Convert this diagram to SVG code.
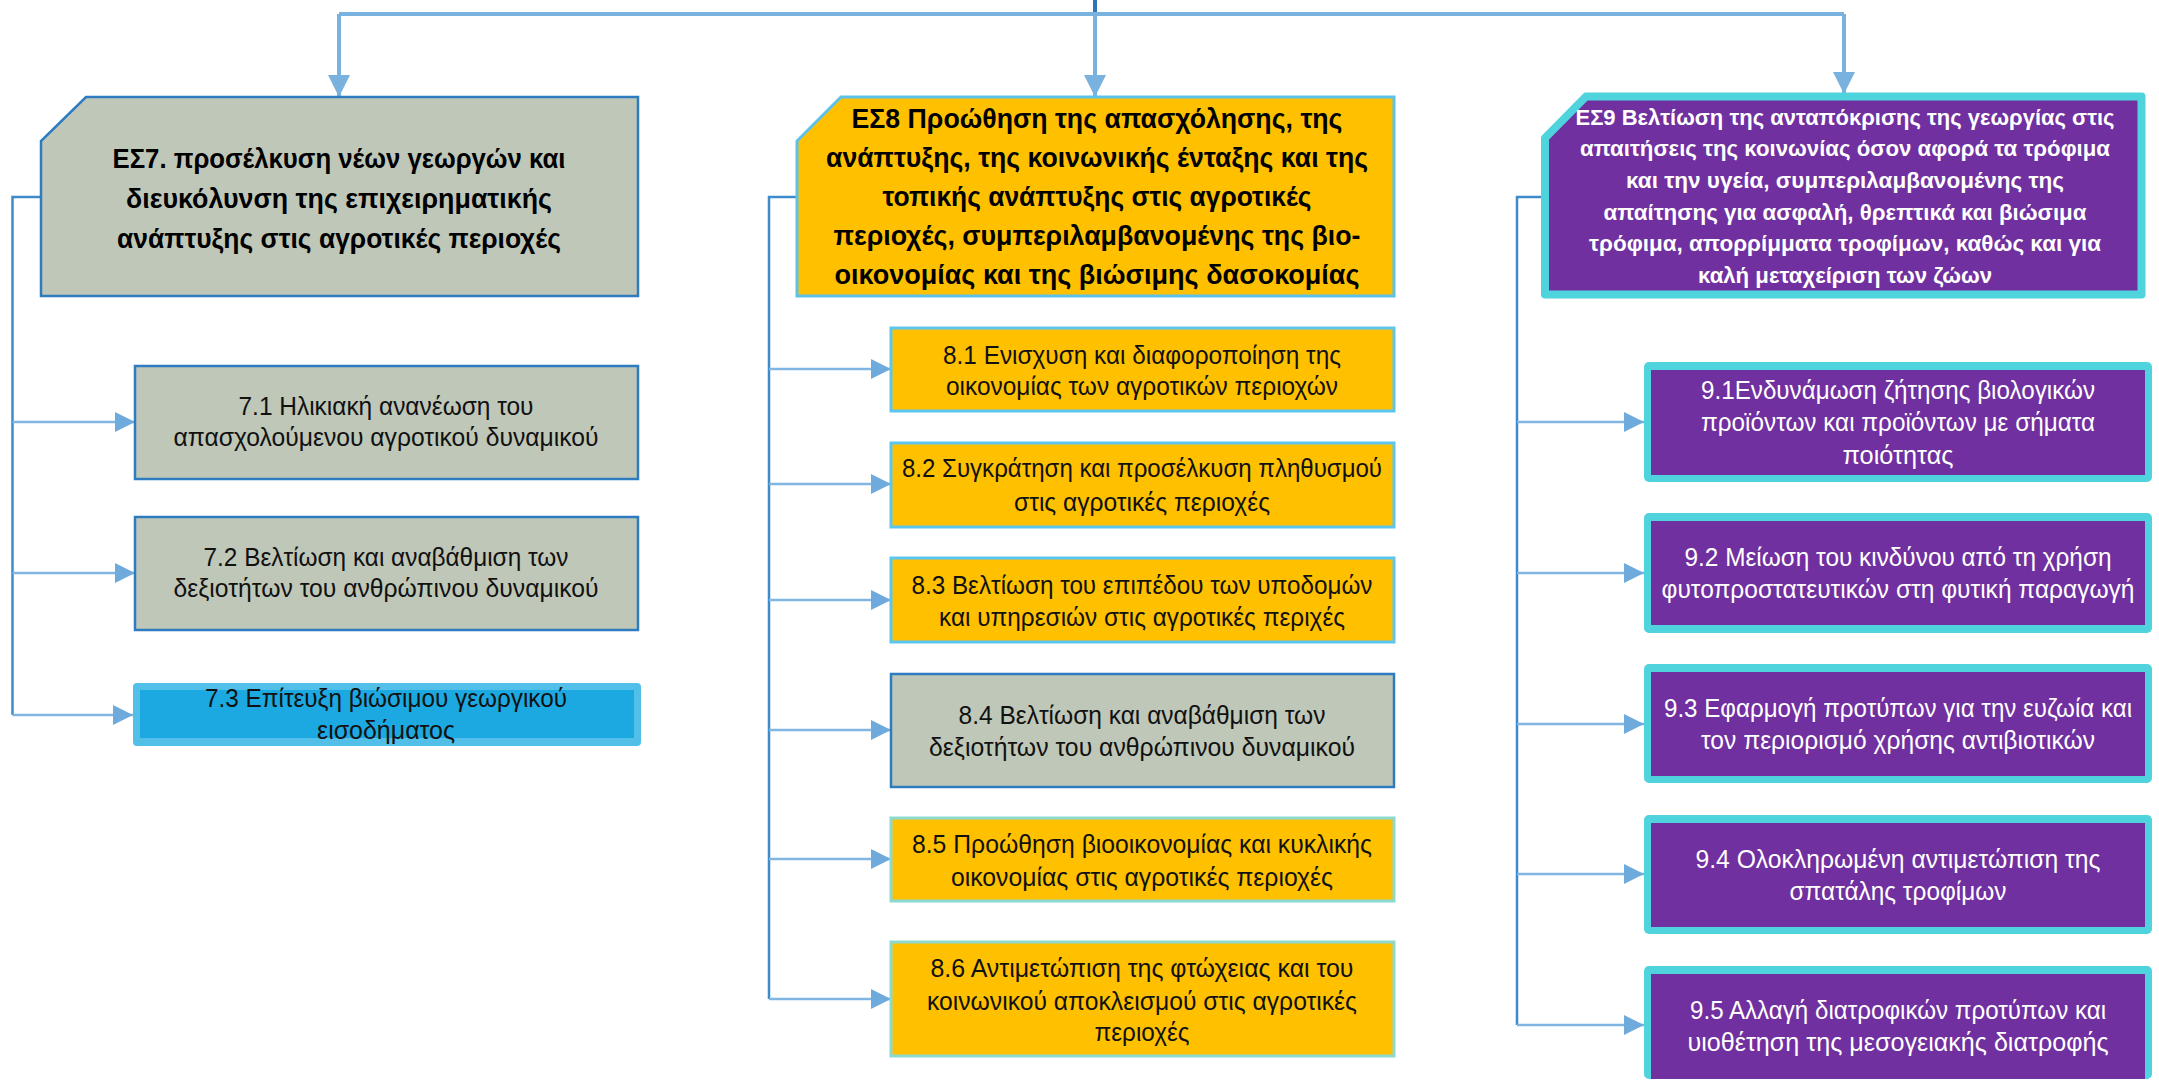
<svg xmlns="http://www.w3.org/2000/svg" width="2159" height="1081" viewBox="0 0 2159 1081">
<defs>
<marker id="ah" markerUnits="userSpaceOnUse" markerWidth="20" markerHeight="20" viewBox="0 0 18 18" refX="18" refY="9" orient="auto">
<path d="M0,0 L18,9 L0,18 Z" fill="#6FAADC"/>
</marker>
<marker id="ahd" markerUnits="userSpaceOnUse" markerWidth="22" markerHeight="22" viewBox="0 0 20 20" refX="20" refY="10" orient="auto">
<path d="M0,0 L20,10 L0,20 Z" fill="#7AB2DF"/>
</marker>
</defs>
<style>
text{font-family:"Liberation Sans",Arial,sans-serif;text-anchor:middle}
.h{font-weight:bold;font-size:27px;fill:#000}
.h9{font-weight:bold;font-size:22.5px;fill:#fff}
.c{font-size:25px;fill:#111}
.w{font-size:25px;fill:#fff}
.gray{fill:#BFC7B8;stroke:#2E7BC0;stroke-width:2.5}
.org{fill:#FFC000;stroke:#5CC6EE;stroke-width:3}
.orgt{fill:#FFC000;stroke:#8CD9CF;stroke-width:3}
.pout{fill:#4FD3DC}
.pin{fill:#7030A0}
.bus{fill:none;stroke:#3E8BCB;stroke-width:2.5}
.br{fill:none;stroke:#80B6E1;stroke-width:2.5}
.top{fill:none;stroke:#7AB2DF;stroke-width:4}
</style>

<g id="connectors">
<line x1="1095" y1="0" x2="1095" y2="16" stroke="#2E75B6" stroke-width="4"/>
<polyline class="top" points="339,14 1844,14"/>
<line class="top" x1="339" y1="14" x2="339" y2="97" marker-end="url(#ahd)"/>
<line class="top" x1="1095" y1="14" x2="1095" y2="97" marker-end="url(#ahd)"/>
<line class="top" x1="1844" y1="14" x2="1844" y2="94" marker-end="url(#ahd)"/>

<polyline class="bus" points="41,197 12.5,197 12.5,715"/>
<line class="br" x1="12.5" y1="422" x2="135" y2="422" marker-end="url(#ah)"/>
<line class="br" x1="12.5" y1="573" x2="135" y2="573" marker-end="url(#ah)"/>
<line class="br" x1="12.5" y1="715" x2="133" y2="715" marker-end="url(#ah)"/>

<polyline class="bus" points="797,197 769,197 769,999"/>
<line class="br" x1="769" y1="369" x2="891" y2="369" marker-end="url(#ah)"/>
<line class="br" x1="769" y1="484" x2="891" y2="484" marker-end="url(#ah)"/>
<line class="br" x1="769" y1="600" x2="891" y2="600" marker-end="url(#ah)"/>
<line class="br" x1="769" y1="730" x2="891" y2="730" marker-end="url(#ah)"/>
<line class="br" x1="769" y1="859" x2="891" y2="859" marker-end="url(#ah)"/>
<line class="br" x1="769" y1="999" x2="891" y2="999" marker-end="url(#ah)"/>

<polyline class="bus" points="1541,197 1517,197 1517,1025"/>
<line class="br" x1="1517" y1="422" x2="1644" y2="422" marker-end="url(#ah)"/>
<line class="br" x1="1517" y1="573" x2="1644" y2="573" marker-end="url(#ah)"/>
<line class="br" x1="1517" y1="724" x2="1644" y2="724" marker-end="url(#ah)"/>
<line class="br" x1="1517" y1="874" x2="1644" y2="874" marker-end="url(#ah)"/>
<line class="br" x1="1517" y1="1025" x2="1644" y2="1025" marker-end="url(#ah)"/>
</g>

<g id="es7">
<path class="gray" d="M86,97 L638,97 L638,296 L41,296 L41,141 Z"/>
<text class="h" x="339" y="168" textLength="453" lengthAdjust="spacingAndGlyphs">ΕΣ7. προσέλκυση νέων γεωργών και</text>
<text class="h" x="339" y="208" textLength="426" lengthAdjust="spacingAndGlyphs">διευκόλυνση της επιχειρηματικής</text>
<text class="h" x="339" y="248" textLength="444" lengthAdjust="spacingAndGlyphs">ανάπτυξης στις αγροτικές περιοχές</text>
</g>

<g id="es8">
<path class="org" style="stroke:#5BC2EC" d="M841,97 L1394,97 L1394,296 L797,296 L797,141 Z"/>
<text class="h" x="1097" y="128" textLength="491" lengthAdjust="spacingAndGlyphs">ΕΣ8 Προώθηση της απασχόλησης, της</text>
<text class="h" x="1097" y="167" textLength="542" lengthAdjust="spacingAndGlyphs">ανάπτυξης, της κοινωνικής ένταξης και της</text>
<text class="h" x="1097" y="206" textLength="429" lengthAdjust="spacingAndGlyphs">τοπικής ανάπτυξης στις αγροτικές</text>
<text class="h" x="1097" y="245" textLength="527" lengthAdjust="spacingAndGlyphs">περιοχές, συμπεριλαμβανομένης της βιο-</text>
<text class="h" x="1097" y="284" textLength="525" lengthAdjust="spacingAndGlyphs">οικονομίας και της βιώσιμης δασοκομίας</text>
</g>

<g id="es9">
<path d="M1586,96.5 L2141.5,96.5 L2141.5,294.5 L1545,294.5 L1545,138 Z" fill="#7030A0" stroke="#4FD3DC" stroke-width="8" stroke-linejoin="round"/>
<text class="h9" x="1845" y="125" textLength="539" lengthAdjust="spacingAndGlyphs">ΕΣ9 Βελτίωση της ανταπόκρισης της γεωργίας στις</text>
<text class="h9" x="1845" y="156" textLength="530" lengthAdjust="spacingAndGlyphs">απαιτήσεις της κοινωνίας όσον αφορά τα τρόφιμα</text>
<text class="h9" x="1845" y="188" textLength="438" lengthAdjust="spacingAndGlyphs">και την υγεία, συμπεριλαμβανομένης της</text>
<text class="h9" x="1845" y="220" textLength="483" lengthAdjust="spacingAndGlyphs">απαίτησης για ασφαλή, θρεπτικά και βιώσιμα</text>
<text class="h9" x="1845" y="251" textLength="512" lengthAdjust="spacingAndGlyphs">τρόφιμα, απορρίμματα τροφίμων, καθώς και για</text>
<text class="h9" x="1845" y="283" textLength="294" lengthAdjust="spacingAndGlyphs">καλή μεταχείριση των ζώων</text>
</g>

<g id="n71">
<rect class="gray" x="135" y="366" width="503" height="113"/>
<text class="c" x="386" y="415" textLength="295" lengthAdjust="spacingAndGlyphs">7.1 Ηλικιακή ανανέωση του</text>
<text class="c" x="386" y="446" textLength="425" lengthAdjust="spacingAndGlyphs">απασχολούμενου αγροτικού δυναμικού</text>
</g>
<g id="n72">
<rect class="gray" x="135" y="517" width="503" height="113"/>
<text class="c" x="386" y="566" textLength="365" lengthAdjust="spacingAndGlyphs">7.2 Βελτίωση και αναβάθμιση των</text>
<text class="c" x="386" y="597" textLength="425" lengthAdjust="spacingAndGlyphs">δεξιοτήτων του ανθρώπινου δυναμικού</text>
</g>
<g id="n73">
<rect x="133" y="683" width="508" height="63" rx="4" fill="#52BFE9"/>
<rect x="140" y="690" width="494" height="48" fill="#1CA9E1"/>
<text class="c" x="386" y="707" textLength="362" lengthAdjust="spacingAndGlyphs">7.3 Επίτευξη βιώσιμου γεωργικού</text>
<text class="c" x="386" y="739" textLength="138" lengthAdjust="spacingAndGlyphs">εισοδήματος</text>
</g>

<g id="n81">
<rect class="org" x="891" y="328" width="503" height="83"/>
<text class="c" x="1142" y="364" textLength="398" lengthAdjust="spacingAndGlyphs">8.1 Ενισχυση και διαφοροποίηση της</text>
<text class="c" x="1142" y="395" textLength="392" lengthAdjust="spacingAndGlyphs">οικονομίας των αγροτικών περιοχών</text>
</g>
<g id="n82">
<rect class="org" x="891" y="443" width="503" height="84"/>
<text class="c" x="1142" y="477" textLength="480" lengthAdjust="spacingAndGlyphs">8.2 Συγκράτηση και προσέλκυση πληθυσμού</text>
<text class="c" x="1142" y="511" textLength="256" lengthAdjust="spacingAndGlyphs">στις αγροτικές περιοχές</text>
</g>
<g id="n83">
<rect class="org" x="891" y="558" width="503" height="84"/>
<text class="c" x="1142" y="594" textLength="461" lengthAdjust="spacingAndGlyphs">8.3 Βελτίωση του επιπέδου των υποδομών</text>
<text class="c" x="1142" y="626" textLength="406" lengthAdjust="spacingAndGlyphs">και υπηρεσιών στις αγροτικές περιχές</text>
</g>
<g id="n84">
<rect class="gray" x="891" y="674" width="503" height="113"/>
<text class="c" x="1142" y="724" textLength="367" lengthAdjust="spacingAndGlyphs">8.4 Βελτίωση και αναβάθμιση των</text>
<text class="c" x="1142" y="756" textLength="426" lengthAdjust="spacingAndGlyphs">δεξιοτήτων του ανθρώπινου δυναμικού</text>
</g>
<g id="n85">
<rect class="orgt" x="891" y="818" width="503" height="83"/>
<text class="c" x="1142" y="853" textLength="460" lengthAdjust="spacingAndGlyphs">8.5 Προώθηση βιοοικονομίας και κυκλικής</text>
<text class="c" x="1142" y="886" textLength="382" lengthAdjust="spacingAndGlyphs">οικονομίας στις αγροτικές περιοχές</text>
</g>
<g id="n86">
<rect class="orgt" x="891" y="942" width="503" height="114"/>
<text class="c" x="1142" y="977" textLength="423" lengthAdjust="spacingAndGlyphs">8.6 Αντιμετώπιση της φτώχειας και του</text>
<text class="c" x="1142" y="1010" textLength="430" lengthAdjust="spacingAndGlyphs">κοινωνικού αποκλεισμού στις αγροτικές</text>
<text class="c" x="1142" y="1041" textLength="95" lengthAdjust="spacingAndGlyphs">περιοχές</text>
</g>

<g id="n91">
<rect class="pout" x="1644" y="362" width="508" height="120" rx="5"/>
<rect class="pin" x="1651" y="370" width="494" height="105"/>
<text class="w" x="1898" y="399" textLength="394" lengthAdjust="spacingAndGlyphs">9.1Ενδυνάμωση ζήτησης βιολογικών</text>
<text class="w" x="1898" y="431" textLength="394" lengthAdjust="spacingAndGlyphs">προϊόντων και προϊόντων με σήματα</text>
<text class="w" x="1898" y="464" textLength="111" lengthAdjust="spacingAndGlyphs">ποιότητας</text>
</g>
<g id="n92">
<rect class="pout" x="1644" y="513" width="508" height="120" rx="5"/>
<rect class="pin" x="1651" y="521" width="494" height="104"/>
<text class="w" x="1898" y="566" textLength="427" lengthAdjust="spacingAndGlyphs">9.2 Μείωση του κινδύνου από τη χρήση</text>
<text class="w" x="1898" y="598" textLength="473" lengthAdjust="spacingAndGlyphs">φυτοπροστατευτικών στη φυτική παραγωγή</text>
</g>
<g id="n93">
<rect class="pout" x="1644" y="664" width="508" height="119" rx="5"/>
<rect class="pin" x="1651" y="672" width="494" height="104"/>
<text class="w" x="1898" y="717" textLength="468" lengthAdjust="spacingAndGlyphs">9.3 Εφαρμογή προτύπων για την ευζωία και</text>
<text class="w" x="1898" y="749" textLength="394" lengthAdjust="spacingAndGlyphs">τον περιορισμό χρήσης αντιβιοτικών</text>
</g>
<g id="n94">
<rect class="pout" x="1644" y="815" width="508" height="119" rx="5"/>
<rect class="pin" x="1651" y="823" width="494" height="104"/>
<text class="w" x="1898" y="868" textLength="405" lengthAdjust="spacingAndGlyphs">9.4 Ολοκληρωμένη αντιμετώπιση της</text>
<text class="w" x="1898" y="900" textLength="217" lengthAdjust="spacingAndGlyphs">σπατάλης τροφίμων</text>
</g>
<g id="n95">
<rect class="pout" x="1644" y="966" width="508" height="113" rx="5"/>
<rect class="pin" x="1651" y="974" width="494" height="105"/>
<text class="w" x="1898" y="1019" textLength="416" lengthAdjust="spacingAndGlyphs">9.5 Αλλαγή διατροφικών προτύπων και</text>
<text class="w" x="1898" y="1051" textLength="421" lengthAdjust="spacingAndGlyphs">υιοθέτηση της μεσογειακής διατροφής</text>
</g>
</svg>
